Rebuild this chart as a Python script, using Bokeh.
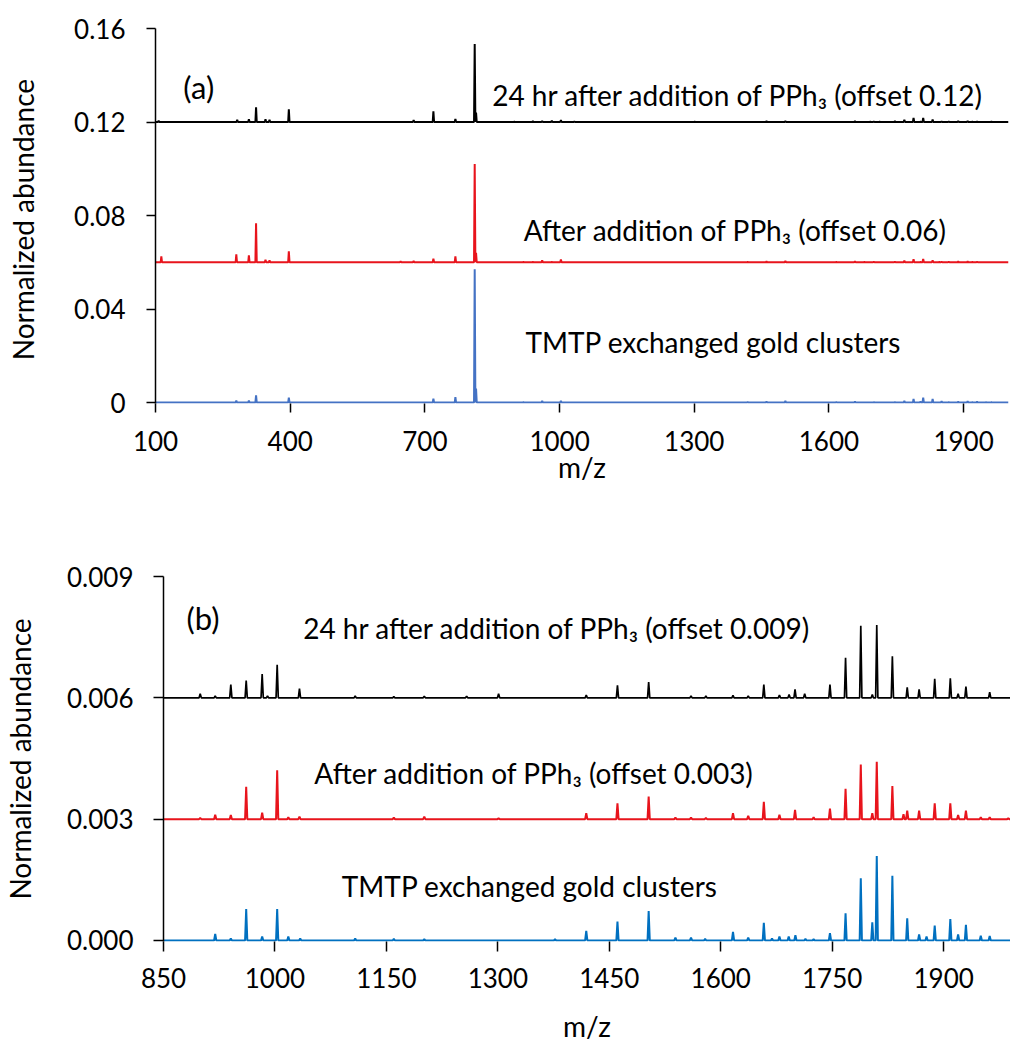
from bokeh.plotting import figure
from bokeh.models import Range1d, FixedTicker, Label, CustomJSTickFormatter
from bokeh.embed import file_html
from bokeh.resources import INLINE

FONT = "Lato"

# ---------------- data ----------------
# low-mass peaks (only in panel a), m/z and heights above each trace's offset
LOW_BLUE_MZ = [280, 308, 324, 397, 719, 768, 811, 814]
LOW_BLUE_H = [0.0008, 0.0008, 0.0031, 0.0021, 0.0017, 0.0023, 0.057, 0.006]

LOW_RED_MZ = [113, 280, 308, 324, 345, 354, 397, 646, 675, 719, 768, 811, 814]
LOW_RED_H = [0.0025, 0.0034, 0.003, 0.0167, 0.0011, 0.0008, 0.0047, 0.0004, 0.0005,
             0.0015, 0.0025, 0.042, 0.004]

LOW_BLACK_MZ = [107, 282, 308, 324, 345, 354, 397, 675, 719, 768, 811, 814]
LOW_BLACK_H = [0.0005, 0.001, 0.0012, 0.0063, 0.0012, 0.001, 0.0054, 0.0008, 0.0046,
               0.0013, 0.0334, 0.004]

# high-mass peaks (panel b, also present in panel a)
HI_BLUE_MZ = [919.6, 940.6, 961.3, 982.8, 1003, 1018, 1034, 1108, 1160, 1201, 1377,
              1419, 1461, 1503, 1539, 1560, 1579, 1616.5, 1637, 1658, 1669, 1679,
              1691.5, 1700.5, 1714, 1725, 1747, 1768, 1788.5, 1804, 1810, 1831, 1851,
              1867, 1877, 1888, 1909, 1919.5, 1930, 1950, 1962]
HI_BLUE_H = [0.000165, 0.00005, 0.00078, 0.0001, 0.00078, 0.0001, 0.00005, 0.00005,
             0.00004, 0.00003, 0.00003, 0.00024, 0.00047, 0.00073, 0.00007, 0.00007,
             0.00004, 0.00021, 0.00007, 0.00044, 0.00005, 0.0001, 0.0001, 0.00013,
             0.00004, 0.00003, 0.00018, 0.00067, 0.00154, 0.00045, 0.00209, 0.0016,
             0.00055, 0.00015, 0.0001, 0.00037, 0.00053, 0.00015, 0.00039, 0.00012,
             0.00011]

HI_RED_MZ = [899.4, 919.6, 940.6, 961.3, 982.8, 1003, 1018, 1033, 1160, 1201, 1301,
             1419, 1461, 1503, 1539, 1560, 1580, 1616.5, 1637, 1658, 1679, 1700, 1725,
             1747, 1768, 1788.5, 1804, 1810, 1831, 1846, 1851, 1867, 1888, 1909,
             1919.5, 1930, 1950, 1962, 1987]
HI_RED_H = [0.00003, 0.00011, 0.0001, 0.0008, 0.00016, 0.00121, 0.00005, 0.00006,
            0.00004, 0.00006, 0.00002, 0.00015, 0.00039, 0.00056, 0.00004, 0.00004,
            0.00003, 0.00015, 0.00008, 0.00043, 0.00011, 0.00023, 0.00005, 0.00026,
            0.00075, 0.00135, 0.00015, 0.00142, 0.00082, 0.00012, 0.00021, 0.00021,
            0.00039, 0.00039, 0.0001, 0.00021, 0.00005, 0.00005, 0.00002]

HI_BLACK_MZ = [899.4, 919.6, 940.6, 961.3, 982.8, 990, 1003, 1033, 1108, 1160, 1201,
               1258, 1301, 1419, 1461, 1503, 1560, 1580, 1616.5, 1637, 1658, 1679,
               1692, 1700, 1713, 1747, 1768, 1788.5, 1804, 1810, 1831, 1851, 1867,
               1888, 1909, 1919.5, 1930, 1962]
HI_BLACK_H = [0.0001, 0.00005, 0.00033, 0.00043, 0.00059, 0.00005, 0.00082, 0.00023,
              0.00005, 0.00003, 0.00004, 0.00004, 0.0001, 0.00007, 0.00031, 0.00039,
              0.00005, 0.00005, 0.00006, 0.00005, 0.00033, 0.00007, 0.00008, 0.00021,
              0.0001, 0.00033, 0.00099, 0.00178, 0.00008, 0.0018, 0.00103, 0.00026,
              0.00021, 0.00047, 0.00048, 0.0001, 0.00028, 0.00014]

# trace offsets
OFFSETS_A = {"blue": 0.0, "red": 0.06, "black": 0.12}
OFFSETS_B = {"blue": 0.0, "red": 0.003, "black": 0.006}

# spectral ranges
MZ_RANGE_A = (100, 2000)
MZ_RANGE_B = (850, 1990)

X_TICKS_A = [100, 400, 700, 1000, 1300, 1600, 1900]
Y_TICKS_A = [0, 0.04, 0.08, 0.12, 0.16]
X_TICKS_B = [850, 1000, 1150, 1300, 1450, 1600, 1750, 1900]
Y_TICKS_B = [0, 0.003, 0.006, 0.009]

LABELS_A = ["24 hr after addition of PPh\u2083 (offset 0.12)",
            "After addition of PPh\u2083 (offset 0.06)",
            "TMTP exchanged gold clusters"]
LABELS_B = ["24 hr after addition of PPh\u2083 (offset 0.009)",
            "After addition of PPh\u2083 (offset 0.003)",
            "TMTP exchanged gold clusters"]

PEAK_HALF_WIDTH = 1.5
TEXT_SIZE = "28px"
PANEL_SIZE = "31px"
TICK_SIZE = "26px"


def spectrum(mz, h, lo, hi, offset, w=PEAK_HALF_WIDTH):
    xs, ys = [lo], [offset]
    for m, v in sorted(zip(mz, h)):
        if lo < m < hi:
            xs += [m - w, m, m + w]
            ys += [offset, offset + v, offset]
    xs.append(hi)
    ys.append(offset)
    return xs, ys


def style(p, xticks, yticks, yfmt_code, tick_out, xstd, ystd, xlstd, ylstd, ylabel):
    p.xgrid.visible = False
    p.ygrid.visible = False
    p.outline_line_color = None
    p.background_fill_color = "white"
    p.border_fill_color = "white"
    for ax in (p.xaxis[0], p.yaxis[0]):
        ax.axis_line_color = "black"
        ax.axis_line_width = 1.5
        ax.major_tick_line_color = "black"
        ax.major_tick_line_width = 1.5
        ax.major_tick_in = 0
        ax.major_tick_out = tick_out
        ax.minor_tick_line_color = None
        ax.major_label_text_font = FONT
        ax.major_label_text_font_size = TICK_SIZE
        ax.major_label_text_color = "black"
        ax.axis_label_text_font = FONT
        ax.axis_label_text_font_size = TEXT_SIZE
        ax.axis_label_text_font_style = "normal"
        ax.axis_label_text_color = "black"
    p.xaxis[0].axis_line_color = None
    p.xaxis[0].ticker = FixedTicker(ticks=xticks)
    p.yaxis[0].ticker = FixedTicker(ticks=yticks)
    p.yaxis[0].formatter = CustomJSTickFormatter(code=yfmt_code)
    p.xaxis[0].major_label_standoff = xstd
    p.yaxis[0].major_label_standoff = ystd
    p.xaxis[0].axis_label_standoff = xlstd
    p.yaxis[0].axis_label_standoff = ylstd
    p.xaxis[0].axis_label = "m/z"
    p.yaxis[0].axis_label = ylabel


def add_label(p, x, y, text, size=TEXT_SIZE):
    p.add_layout(Label(x=x, y=y, text=text, text_font=FONT, text_font_size=size,
                       text_color="black", text_align="left",
                       text_baseline="alphabetic"))


# ---------------- panel (a) ----------------
p1 = figure(frame_width=853, frame_height=375,
            x_range=Range1d(MZ_RANGE_A[0], MZ_RANGE_A[1]),
            y_range=Range1d(-0.0004, 0.16),
            output_backend="svg", toolbar_location=None,
            min_border_left=155, min_border_right=2,
            min_border_top=28, min_border_bottom=97)

series_a = [
    (LOW_BLUE_MZ + HI_BLUE_MZ, LOW_BLUE_H + HI_BLUE_H, "blue", "#4472C4"),
    (LOW_RED_MZ + HI_RED_MZ, LOW_RED_H + HI_RED_H, "red", "#E8141C"),
    (LOW_BLACK_MZ + HI_BLACK_MZ, LOW_BLACK_H + HI_BLACK_H, "black", "#000000"),
]
for mz, h, key, col in series_a:
    xs, ys = spectrum(mz, h, MZ_RANGE_A[0], MZ_RANGE_A[1], OFFSETS_A[key])
    p1.line(xs, ys, line_color=col, line_width=2)

style(p1, X_TICKS_A, Y_TICKS_A,
      "return tick == 0 ? '0' : tick.toFixed(2);",
      9, 18, 21, -4, 31, "Normalized  abundance")

add_label(p1, 162, 0.1348, "(a)", PANEL_SIZE)
add_label(p1, 850, 0.1314, LABELS_A[0])
add_label(p1, 920, 0.0738, LABELS_A[1])
add_label(p1, 924, 0.0259, LABELS_A[2])

# ---------------- panel (b) ----------------
p2 = figure(frame_width=847, frame_height=365,
            x_range=Range1d(MZ_RANGE_B[0], MZ_RANGE_B[1]),
            y_range=Range1d(-0.000025, 0.009),
            output_backend="svg", toolbar_location=None,
            min_border_left=160, min_border_right=3,
            min_border_top=76, min_border_bottom=106)

series_b = [
    (HI_BLUE_MZ, HI_BLUE_H, "blue", "#0070C0", 2),
    (HI_RED_MZ, HI_RED_H, "red", "#E8141C", 2),
    (HI_BLACK_MZ, HI_BLACK_H, "black", "#000000", 1.7),
]
for mz, h, key, col, lw in series_b:
    xs, ys = spectrum(mz, h, MZ_RANGE_B[0], MZ_RANGE_B[1], OFFSETS_B[key])
    p2.line(xs, ys, line_color=col, line_width=lw)

style(p2, X_TICKS_B, Y_TICKS_B,
      "return tick.toFixed(3);",
      10, 16, 20, 18, 27, "Normalized abundance")

add_label(p2, 881, 0.00797, "(b)", PANEL_SIZE)
add_label(p2, 1038, 0.00773, LABELS_B[0])
add_label(p2, 1053, 0.00415, LABELS_B[1])
add_label(p2, 1090, 0.00135, LABELS_B[2])

open("out.html", "w").write(file_html([p1, p2], INLINE))
